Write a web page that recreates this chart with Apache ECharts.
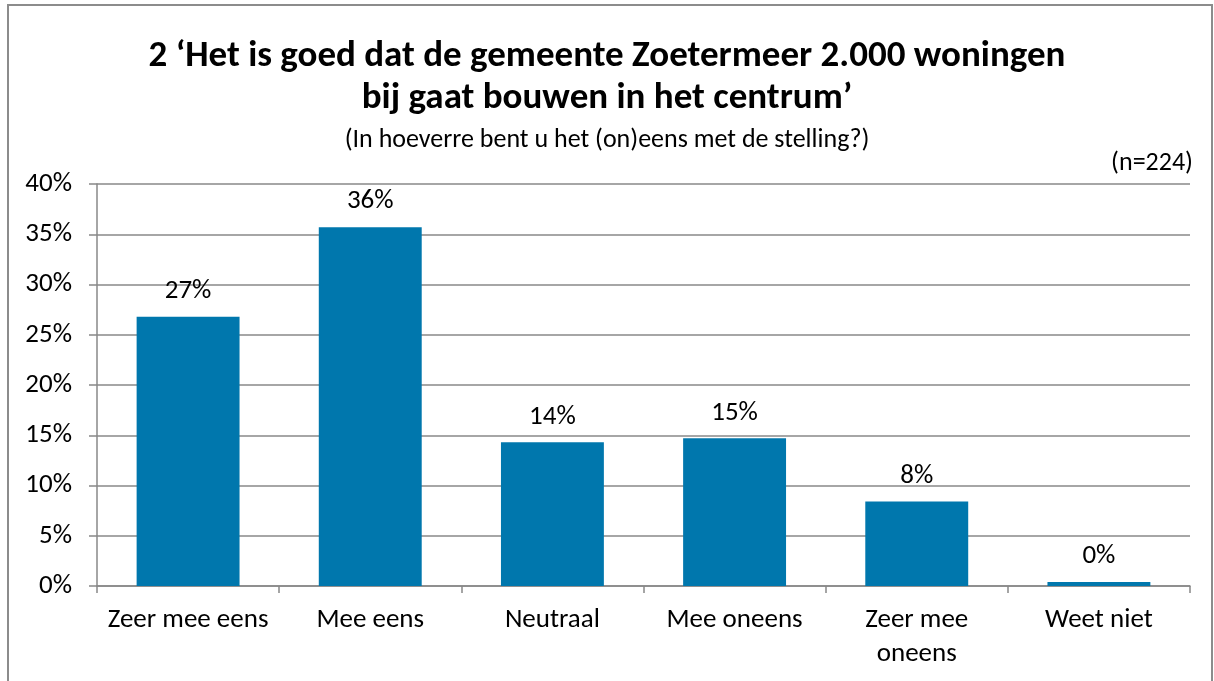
<!DOCTYPE html>
<html>
<head>
<meta charset="utf-8">
<script src="https://cdn.jsdelivr.net/npm/echarts@6/dist/echarts.min.js"></script>
<style>
  html, body { margin: 0; padding: 0; background: #fff; }
  #chart { width: 1214px; height: 681px; }
</style>
</head>
<body>
<div id="chart"></div>
<script>
var categories = ["Zeer mee eens", "Mee eens", "Neutraal", "Mee oneens", "Zeer mee\noneens", "Weet niet"];
var percentages = [26.8, 35.7, 14.3, 14.7, 8.4, 0.4];

var font = "Carlito, Calibri, 'Liberation Sans Narrow', 'Noto Sans', sans-serif";

var chart = echarts.init(document.getElementById("chart"));
var option = {
  backgroundColor: "#fff",
  textStyle: { fontFamily: font },
  title: [
    {
      text: "2 \u2018Het is goed dat de gemeente Zoetermeer 2.000 woningen\nbij gaat bouwen in het centrum\u2019",
      left: "center",
      top: 31,
      textStyle: { fontFamily: font, fontSize: 37, fontWeight: "bold", color: "#000", lineHeight: 42, align: "center" }
    },
    {
      text: "(In hoeverre bent u het (on)eens met de stelling?)",
      left: "center",
      top: 120,
      textStyle: { fontFamily: font, fontSize: 26, fontWeight: "normal", color: "#000", lineHeight: 30 }
    },
    {
      text: "(n=224)",
      right: 16,
      top: 143,
      textStyle: { fontFamily: font, fontSize: 26, fontWeight: "normal", color: "#000", lineHeight: 30 }
    }
  ],
  graphic: [
    {
      type: "rect",
      shape: { x: 8, y: 5, width: 1204, height: 690 },
      style: { fill: "none", stroke: "#8c8c8c", lineWidth: 2 },
      silent: true
    }
  ],
  grid: { left: 97, right: 24, top: 184, bottom: 95, containLabel: false },
  xAxis: {
    type: "category",
    data: categories,
    axisLine: { lineStyle: { color: "#888", width: 1.5 } },
    axisTick: { show: true, length: 7, alignWithLabel: false, lineStyle: { color: "#888", width: 1.5 } },
    axisLabel: { fontFamily: font, fontSize: 27, color: "#000", margin: 17, lineHeight: 34, interval: 0 }
  },
  yAxis: {
    type: "value",
    min: 0,
    max: 40,
    interval: 5,
    axisLine: { show: true, lineStyle: { color: "#888", width: 1.5 } },
    axisTick: { show: true, length: 8, lineStyle: { color: "#888", width: 1.5 } },
    axisLabel: { fontFamily: font, fontSize: 27, color: "#000", margin: 25, formatter: "{value}%" },
    splitLine: { lineStyle: { color: "#888", width: 1.5 } }
  },
  series: [
    {
      type: "bar",
      data: percentages,
      barWidth: "56.5%",
      itemStyle: { color: "#0077ad" },
      label: {
        show: true,
        position: "top",
        distance: 12,
        fontFamily: font,
        fontSize: 27,
        color: "#000",
        formatter: function (p) { return Math.round(p.value) + "%"; }
      }
    }
  ]
};
chart.setOption(option);
</script>
</body>
</html>
